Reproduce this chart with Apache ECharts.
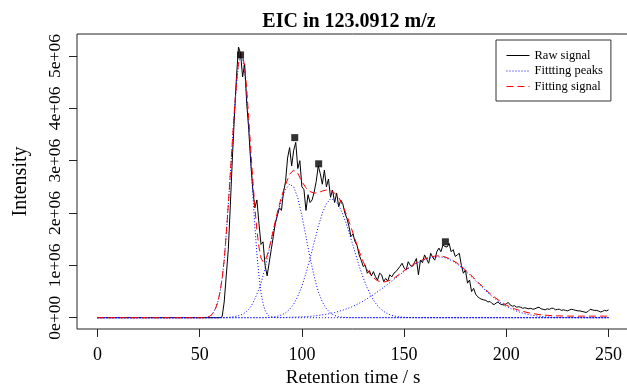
<!DOCTYPE html>
<html>
<head>
<meta charset="utf-8">
<script src="https://cdn.jsdelivr.net/npm/echarts@6/dist/echarts.min.js"></script>
<style>
html,body{margin:0;padding:0;background:#fff;}
#chart{width:627px;height:387px;}
</style>
</head>
<body>
<div id="chart"></div>
<script>
// ---- data (intensity in units of 1e+06) ----
const xTickValues = [0, 50, 100, 150, 200, 250];
const yTickValues = [0, 1, 2, 3, 4, 5];
const yTickLabels = ['0e+00', '1e+06', '2e+06', '3e+06', '4e+06', '5e+06'];

// raw signal, one value per second, t = 0 .. 250 s
const rawIntensity = [
  0,0,0,0,0,0,0,0,0,0,
  0,0,0,0,0,0,0,0,0,0,
  0,0,0,0,0,0,0,0,0,0,
  0,0,0,0,0,0,0,0,0,0,
  0,0,0,0,0,0,0,0,0,0,
  0,0,0,0,0,0,0,0,0,0,
  0,0.02,0.3,0.8,1.3,2.15,3.05,3.85,4.6,5.17,
  5.05,4.6,4.85,4.1,3.6,2.95,2.45,2.1,2.25,1.8,
  1.4,1.45,1.0,0.8,1.05,1.3,1.55,1.8,1.95,2.1,
  2.05,2.4,2.6,3.05,3.25,2.9,3.2,3.35,2.85,3.0,
  2.5,2.45,2.05,2.35,2.2,2.25,2.4,2.6,2.9,2.75,
  2.55,2.82,2.5,2.65,2.3,2.44,2.2,2.38,2.12,2.25,
  2.18,2.0,1.9,1.75,1.55,1.6,1.45,1.38,1.2,1.1,
  0.98,1.0,0.85,0.9,0.8,0.88,0.78,0.72,0.85,0.82,
  0.69,0.75,0.7,0.82,0.78,0.85,0.88,0.93,0.98,1.04,
  0.95,0.91,1.07,1.0,0.98,1.05,1.13,0.82,1.1,1.05,
  1.2,1.12,1.04,1.23,1.15,1.1,1.26,1.33,1.26,1.39,
  1.36,1.35,1.42,1.26,1.3,1.17,1.2,1.23,1.0,0.85,
  0.91,0.66,0.72,0.5,0.56,0.45,0.4,0.37,0.35,0.34,
  0.33,0.3,0.31,0.27,0.25,0.28,0.3,0.26,0.25,0.24,
  0.27,0.29,0.24,0.22,0.23,0.2,0.21,0.2,0.18,0.19,
  0.18,0.17,0.18,0.16,0.17,0.19,0.2,0.17,0.16,0.15,
  0.17,0.16,0.18,0.18,0.15,0.16,0.16,0.14,0.15,0.14,
  0.13,0.15,0.16,0.15,0.14,0.13,0.13,0.12,0.11,0.1,
  0.12,0.16,0.15,0.14,0.14,0.13,0.11,0.12,0.14,0.13,
  0.15
];

// time grid of the fitted curves
const fitTime = [
  0,10,20,30,40,50,52,54,
  55,56,57,58,59,60,61,62,63,64,65,66,67,68,69,70,71,72,73,74,75,76,77,78,79,80,81,82,83,84,85,86,
  88,90,92,94,96,98,100,102,104,106,108,110,112,114,116,118,120,122,124,126,128,130,132,134,136,138,
  140,142,144,146,148,150,152,154,156,158,160,162,164,166,168,170,172,174,176,178,180,182,184,186,188,190,
  192,194,196,198,200,
  204,208,212,216,220,225,230,240,250
];

const fitPeak1 = [
  0,0,0,0,0,0,0,0.01,
  0.03,0.06,0.12,0.2,0.32,0.5,0.75,1.1,1.6,2.15,2.75,3.35,3.95,4.45,4.85,5.0,4.95,4.7,4.25,3.65,3.0,2.35,1.75,1.22,0.8,0.48,0.27,0.14,0.07,0.03,0.015,0.005,
  0,0,0,0,0,0,0,0,0,0,0,0,0,0,0,0,0,0,0,0,0,0,0,0,0,0,
  0,0,0,0,0,0,0,0,0,0,0,0,0,0,0,0,0,0,0,0,0,0,0,0,0,0,
  0,0,0,0,0,
  0,0,0,0,0,0,0,0,0
];
const fitPeak2 = [
  0,0,0,0,0,0,0,0,
  0,0,0,0,0,0,0,0,0.005,0.007,0.01,0.015,0.02,0.028,0.038,0.05,0.07,0.09,0.12,0.16,0.21,0.28,0.36,0.45,0.55,0.66,0.8,0.95,1.12,1.3,1.48,1.66,
  1.98,2.26,2.45,2.55,2.5,2.29,1.95,1.55,1.14,0.79,0.5,0.3,0.17,0.087,0.042,0.019,0.008,0.003,0,0,0,0,0,0,0,0,
  0,0,0,0,0,0,0,0,0,0,0,0,0,0,0,0,0,0,0,0,0,0,0,0,0,0,
  0,0,0,0,0,
  0,0,0,0,0,0,0,0,0
];
const fitPeak3 = [
  0,0,0,0,0,0,0,0,
  0,0,0,0,0,0,0,0,0,0,0,0,0,0,0,0,0,0,0,0,0,0,0,0,0,0,0,0,0,0.006,0.009,0.013,
  0.027,0.05,0.093,0.16,0.26,0.41,0.6,0.85,1.13,1.44,1.74,2.0,2.18,2.27,2.25,2.15,1.98,1.76,1.51,1.25,0.99,0.76,0.565,0.405,0.279,0.186,
  0.119,0.073,0.044,0.025,0.014,0.008,0.004,0.002,0.001,0,0,0,0,0,0,0,0,0,0,0,0,0,0,0,0,0,
  0,0,0,0,0,
  0,0,0,0,0,0,0,0,0
];
const fitPeak4 = [
  0,0,0,0,0,0,0,0,
  0,0,0,0,0,0,0,0,0,0,0,0,0,0,0,0,0,0,0,0,0,0,0,0,0,0.001,0.001,0.001,0.002,0.002,0.002,0.002,
  0.003,0.004,0.006,0.008,0.011,0.014,0.017,0.021,0.027,0.034,0.043,0.054,0.066,0.082,0.1,0.12,0.144,0.17,0.2,0.236,0.275,0.318,0.364,0.415,0.468,0.523,
  0.58,0.64,0.7,0.762,0.825,0.884,0.94,0.99,1.035,1.075,1.11,1.135,1.15,1.16,1.16,1.144,1.116,1.076,1.024,0.962,0.894,0.82,0.742,0.664,0.587,0.512,
  0.441,0.377,0.317,0.264,0.216,
  0.14,0.087,0.051,0.029,0.015,0.006,0.003,0,0
];
const fitSignal = [
  0,0,0,0,0,0,0,0.01,
  0.03,0.06,0.12,0.2,0.32,0.5,0.75,1.1,1.6,2.15,2.76,3.37,3.97,4.48,4.89,5.05,5.02,4.79,4.37,3.81,3.21,2.63,2.11,1.67,1.35,1.14,1.07,1.09,1.19,1.33,1.49,1.67,
  2.01,2.31,2.54,2.74,2.82,2.76,2.6,2.48,2.41,2.38,2.39,2.42,2.44,2.43,2.38,2.3,2.14,1.95,1.73,1.5,1.27,1.07,0.91,0.8,0.73,0.69,
  0.68,0.7,0.73,0.78,0.84,0.9,0.95,1.0,1.05,1.09,1.12,1.15,1.17,1.18,1.18,1.16,1.13,1.09,1.04,0.98,0.91,0.84,0.76,0.68,0.61,0.53,
  0.46,0.4,0.34,0.29,0.24,
  0.17,0.12,0.085,0.06,0.045,0.035,0.03,0.03,0.03
];

const peakTime = [70.0, 96.5, 108.2, 170.2];
const peakValue = [5.02, 3.44, 2.94, 1.45];

// ---- chart ----
const FONT = '"Liberation Serif", "Times New Roman", "DejaVu Serif", serif';
const rawPairs = rawIntensity.map((v, i) => [i, v]);
const pairs = arr => fitTime.map((t, i) => [t, arr[i]]);
const blueStyle = { color: '#0000ff', width: 1, type: [1, 2] };
const redStyle = { color: '#ff0000', width: 1, type: [7, 4] };

const chart = echarts.init(document.getElementById('chart'), null, { renderer: 'canvas' });
chart.setOption({
  animation: false,
  backgroundColor: '#ffffff',
  grid: { left: 77, top: 34, width: 552, height: 295, show: true, borderColor: '#222', borderWidth: 1, containLabel: false, outerBoundsMode: 'none' },
  graphic: [{
    type: 'text', x: 349, y: 22,
    style: { text: 'EIC in 123.0912 m/z', font: 'bold 20px ' + FONT, fill: '#000', textAlign: 'center', textVerticalAlign: 'middle' }
  }],
  xAxis: {
    type: 'value', min: -10, max: 260,
    name: 'Retention time / s', nameLocation: 'middle', nameGap: 39,
    nameTextStyle: { fontFamily: FONT, fontSize: 19, color: '#000' },
    axisLine: { show: false, onZero: false },
    axisTick: { show: true, inside: false, length: 8, customValues: xTickValues, lineStyle: { color: '#222' } },
    axisLabel: { customValues: xTickValues, fontFamily: FONT, fontSize: 18, color: '#000', margin: 17 },
    splitLine: { show: false }
  },
  yAxis: {
    type: 'value', min: -0.216, max: 5.42,
    name: 'Intensity', nameLocation: 'middle', nameGap: 46, nameRotate: 90,
    nameTextStyle: { fontFamily: FONT, fontSize: 20, color: '#000' },
    axisLine: { show: false, onZero: false },
    axisTick: { show: true, inside: false, length: 8, customValues: yTickValues, lineStyle: { color: '#222' } },
    axisLabel: {
      customValues: yTickValues, rotate: 90, fontFamily: FONT, fontSize: 17.5, color: '#000', margin: 13,
      formatter: v => yTickLabels[yTickValues.indexOf(v)]
    },
    splitLine: { show: false }
  },
  legend: {
    orient: 'vertical', left: 496, top: 40,
    padding: [9, 8, 8, 10], itemGap: 2.5, itemWidth: 23, itemHeight: 12,
    borderColor: '#333', borderWidth: 1, backgroundColor: '#fff',
    itemStyle: { opacity: 0 },
    lineStyle: { width: 1 },
    textStyle: { fontFamily: FONT, fontSize: 12.5, color: '#000' },
    data: ['Raw signal', 'Fittting peaks', 'Fitting signal']
  },
  series: [
    { name: 'Raw signal', type: 'line', data: rawPairs, symbol: 'none', lineStyle: { color: '#000', width: 1 }, itemStyle: { color: '#000' }, z: 2 },
    { name: 'Fittting peaks', type: 'line', data: pairs(fitPeak1), symbol: 'none', lineStyle: blueStyle, itemStyle: { color: '#0000ff' }, z: 3 },
    { name: 'Fittting peaks', type: 'line', data: pairs(fitPeak2), symbol: 'none', lineStyle: blueStyle, itemStyle: { color: '#0000ff' }, z: 3 },
    { name: 'Fittting peaks', type: 'line', data: pairs(fitPeak3), symbol: 'none', lineStyle: blueStyle, itemStyle: { color: '#0000ff' }, z: 3 },
    { name: 'Fittting peaks', type: 'line', data: pairs(fitPeak4), symbol: 'none', lineStyle: blueStyle, itemStyle: { color: '#0000ff' }, z: 3 },
    { name: 'Fitting signal', type: 'line', data: pairs(fitSignal), symbol: 'none', lineStyle: redStyle, itemStyle: { color: '#ff0000' }, z: 4 },
    { name: 'Peak apex', type: 'scatter', data: peakTime.map((t, i) => [t, peakValue[i]]), symbol: 'rect', symbolSize: 7, itemStyle: { color: '#000' }, z: 5 }
  ]
});
</script>
</body>
</html>
